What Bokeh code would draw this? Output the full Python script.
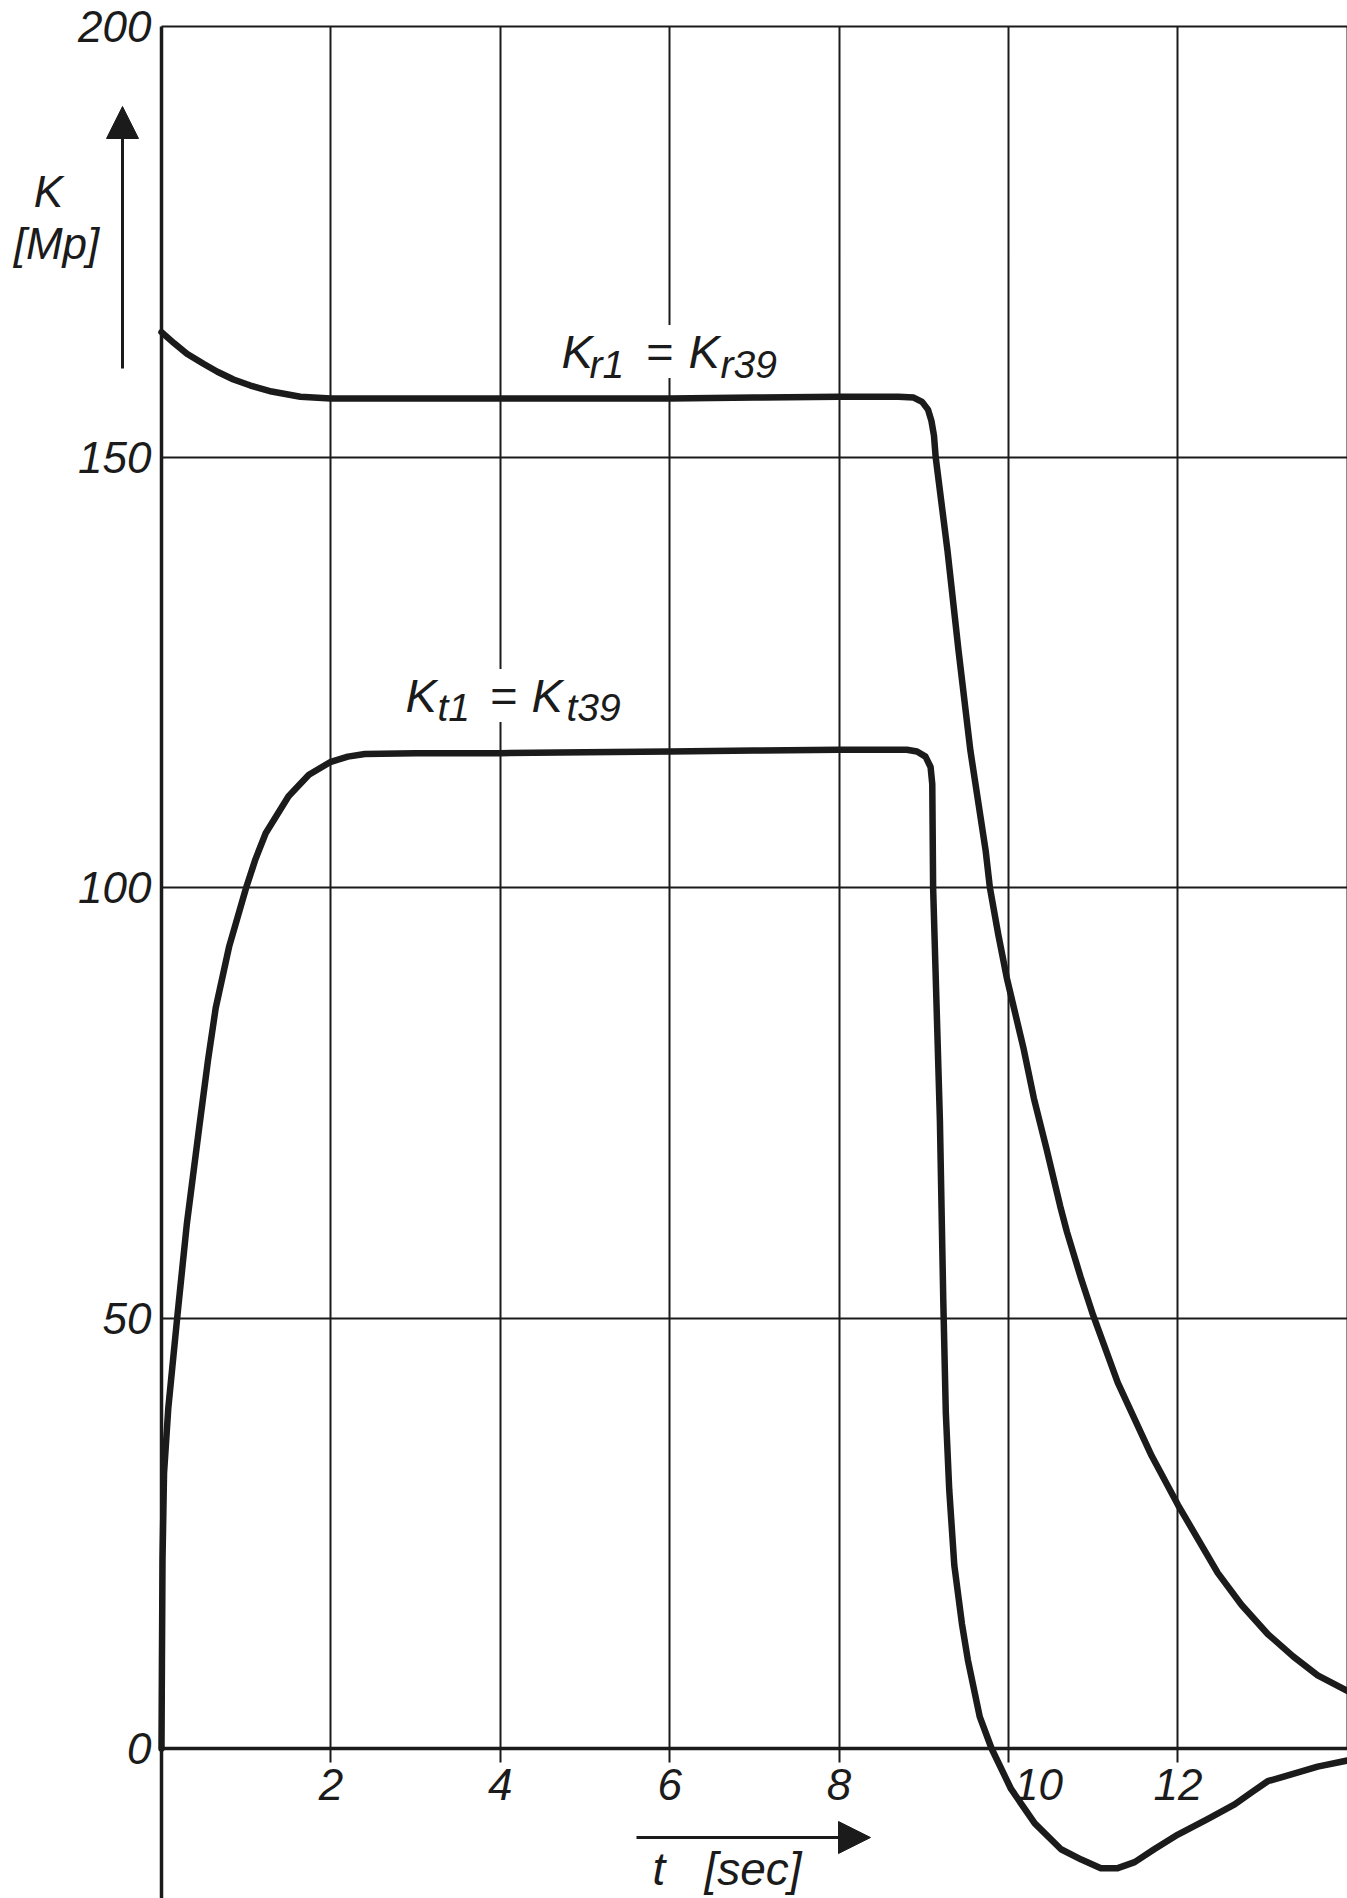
from bokeh.plotting import figure
from bokeh.models import Range1d, LinearAxis, Grid, FixedTicker, Arrow, NormalHead
from bokeh.core.properties import value
from bokeh.embed import file_html
from bokeh.resources import INLINE

# ---------------- data ----------------
# K_r1 = K_r39  (Mp) vs time t (sec)
t_kr = [0.0, 0.15, 0.3, 0.5, 0.66, 0.85, 1.05, 1.3, 1.64, 2.0, 3.0, 4.0, 5.0, 6.0,
        7.0, 8.0, 8.7, 8.88, 8.98, 9.05, 9.09, 9.12, 9.14, 9.28, 9.41, 9.55, 9.73,
        9.78, 9.88, 9.98, 10.18, 10.30, 10.45, 10.61, 10.69, 10.85, 11.0, 11.29,
        11.69, 12.0, 12.47, 12.75, 13.06, 13.36, 13.65, 14.0]
k_r = [164.5, 163.2, 162.0, 160.8, 159.9, 159.0, 158.3, 157.6, 157.0, 156.8, 156.8,
       156.8, 156.8, 156.8, 156.9, 157.0, 157.0, 156.9, 156.4, 155.5, 154.2, 152.5,
       150.0, 139.1, 127.5, 115.9, 104.3, 100.0, 94.5, 89.5, 81.2, 75.5, 69.6, 63.0,
       60.0, 54.8, 50.3, 42.5, 34.0, 28.3, 20.4, 16.7, 13.3, 10.7, 8.5, 6.7]

# K_t1 = K_t39  (Mp) vs time t (sec)
t_kt = [0.0, 0.005, 0.012, 0.03, 0.08, 0.19, 0.30, 0.45, 0.55, 0.64, 0.80, 1.0,
        1.11, 1.23, 1.5, 1.74, 2.0, 2.2, 2.4, 3.0, 4.0, 5.0, 6.0, 7.0, 8.0, 8.8,
        8.92, 9.02, 9.08, 9.10, 9.11, 9.15, 9.19, 9.23, 9.26, 9.30, 9.36, 9.45,
        9.52, 9.66, 9.8, 10.03, 10.31, 10.62, 10.86, 11.09, 11.29, 11.49, 11.72,
        12.0, 12.35, 12.67, 12.87, 13.06, 13.38, 13.65, 14.0]
k_t = [0.0, 10.0, 22.0, 32.0, 39.5, 50.5, 61.0, 72.5, 80.0, 86.0, 93.2, 100.0,
       103.3, 106.3, 110.6, 113.1, 114.6, 115.2, 115.5, 115.6, 115.6, 115.7, 115.8,
       115.9, 116.0, 116.0, 115.8, 115.2, 114.0, 112.0, 100.0, 86.5, 73.0, 52.0,
       39.0, 30.1, 21.3, 14.5, 10.3, 3.7, 0.0, -4.7, -8.7, -11.7, -12.9, -13.9,
       -13.9, -13.2, -11.7, -10.0, -8.2, -6.5, -5.1, -3.8, -2.9, -2.1, -1.4]

x_tick_values = [2, 4, 6, 8, 10, 12]
x_grid_values = [2, 4, 6, 8, 10, 12, 14]
y_tick_values = [0, 50, 100, 150, 200]
y_grid_values = [50, 100, 150, 200]

label_kr = ["K", "r1", "=", "K", "r39"]
label_kt = ["K", "t1", "=", "K", "t39"]

# ---------------- layout ----------------
W, H = 1347, 1898
X0_PX, Y0_PX = 161.0, 1748.0      # pixel position of t=0, K=0
PX_PER_T = 84.7
PX_PER_K = 8.61
TEXT_FIX = 12                     # baseline correction for text glyphs (px)
INK = "#1b1b1b"
FONT = value("Liberation Sans")

def dx(px):
    return (px - X0_PX) / PX_PER_T

def dy(py):
    return (Y0_PX - py) / PX_PER_K

def ty(py):
    return dy(py - TEXT_FIX)

x_start, x_end = dx(0), dx(W)
y_start, y_end = dy(H), dy(0)

p = figure(width=W, height=H, x_range=Range1d(x_start, x_end),
           y_range=Range1d(y_start, y_end), min_border=0,
           toolbar_location=None, output_backend="svg",
           x_axis_type=None, y_axis_type=None)
p.outline_line_color = None
p.background_fill_color = "white"
p.border_fill_color = "white"

# grid
try:
    xgrid = Grid(dimension=0, ticker=FixedTicker(ticks=x_grid_values),
                 cross_bounds=(0, 200))
    ygrid = Grid(dimension=1, ticker=FixedTicker(ticks=y_grid_values),
                 cross_bounds=(0, x_end))
    for g in (xgrid, ygrid):
        g.grid_line_color = INK
        g.grid_line_width = 2
        p.add_layout(g)
except Exception:
    p.segment(x0=x_grid_values, y0=[0] * len(x_grid_values), x1=x_grid_values,
              y1=[200] * len(x_grid_values), line_color=INK, line_width=2)
    p.segment(x0=[0] * len(y_grid_values), y0=y_grid_values,
              x1=[x_end] * len(y_grid_values), y1=y_grid_values,
              line_color=INK, line_width=2)

# axes placed at t=0 and K=0
xaxis = LinearAxis(fixed_location=0, ticker=FixedTicker(ticks=x_tick_values),
                   bounds=(0, x_end))
xaxis.axis_line_width = 3.5
xaxis.axis_line_color = INK
xaxis.major_tick_out = 14
xaxis.major_tick_in = 0
xaxis.major_tick_line_width = 2
xaxis.major_tick_line_color = INK
xaxis.minor_tick_out = 0
xaxis.minor_tick_in = 0
xaxis.major_label_standoff = 6
xaxis.major_label_text_font = "Liberation Sans"
xaxis.major_label_text_font_style = "italic"
xaxis.major_label_text_font_size = "44px"
xaxis.major_label_text_color = INK
xaxis.major_label_overrides = {10: ""}
p.add_layout(xaxis, "below")

yaxis = LinearAxis(fixed_location=0, ticker=FixedTicker(ticks=y_tick_values),
                   bounds=(y_start, 200))
yaxis.axis_line_width = 3.5
yaxis.axis_line_color = INK
yaxis.major_tick_out = 0
yaxis.major_tick_in = 0
yaxis.minor_tick_out = 0
yaxis.minor_tick_in = 0
yaxis.major_label_standoff = 10
yaxis.major_label_text_font = "Liberation Sans"
yaxis.major_label_text_font_style = "italic"
yaxis.major_label_text_font_size = "44px"
yaxis.major_label_text_color = INK
p.add_layout(yaxis, "left")

# tick label "10" sits to the right of the falling curve in the original
p.text(x=[10 + 30 / PX_PER_T], y=[dy(1768)], text=["10"], text_font=FONT,
       text_font_style="italic", text_font_size="44px", text_align="center",
       text_baseline="top", text_color=INK)

# curve labels (main letters and subscripts); the "=" masks the grid line behind it
def put_label(parts, lefts_px, bases_px, sizes):
    for txt, lx, by, sz in zip(parts, lefts_px, bases_px, sizes):
        kw = dict(x=[dx(lx)], y=[ty(by)], text=[txt], text_font=FONT,
                  text_font_style="italic", text_font_size=sz,
                  text_align="left", text_baseline="alphabetic", text_color=INK)
        if txt == "=":
            try:
                p.text(background_fill_color="white", **kw)
                continue
            except Exception:
                pass
        p.text(**kw)

put_label(label_kr, [561, 589, 645, 688, 720], [363, 376, 363, 363, 376],
          ["47px", "39px", "47px", "47px", "39px"])
put_label(label_kt, [405, 437, 489, 531, 566], [707, 719, 707, 707, 719],
          ["47px", "39px", "47px", "47px", "39px"])

# curves
p.line(t_kr, k_r, line_color=INK, line_width=6.5, line_join="round", line_cap="round")
p.line(t_kt, k_t, line_color=INK, line_width=6.5, line_join="round", line_cap="round")

# axis names
p.text(x=[dx(48)], y=[ty(203)], text=["K"], text_font=FONT, text_font_style="italic",
       text_font_size="44px", text_align="center", text_baseline="alphabetic",
       text_color=INK)
p.text(x=[dx(56)], y=[ty(255)], text=["[Mp]"], text_font=FONT, text_font_style="italic",
       text_font_size="44px", text_align="center", text_baseline="alphabetic",
       text_color=INK)
p.text(x=[dx(652)], y=[ty(1880)], text=["t"], text_font=FONT, text_font_style="italic",
       text_font_size="46px", text_align="left", text_baseline="alphabetic",
       text_color=INK)
p.text(x=[dx(704)], y=[ty(1880)], text=["[sec]"], text_font=FONT, text_font_style="italic",
       text_font_size="46px", text_align="left", text_baseline="alphabetic",
       text_color=INK)

# direction arrows
p.add_layout(Arrow(x_start=dx(122), y_start=dy(368), x_end=dx(122), y_end=dy(106),
                   line_width=3, line_color=INK,
                   end=NormalHead(size=32, fill_color=INK, line_color=INK)))
p.add_layout(Arrow(x_start=dx(636), y_start=dy(1837), x_end=dx(870), y_end=dy(1837),
                   line_width=3, line_color=INK,
                   end=NormalHead(size=32, fill_color=INK, line_color=INK)))

open("out.html", "w").write(file_html(p, INLINE))
